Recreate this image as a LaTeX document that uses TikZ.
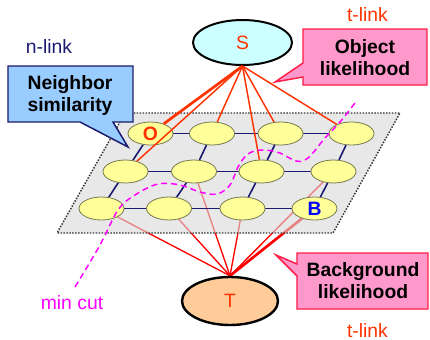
\documentclass[tikz,border=0pt]{standalone}
\usepackage{fontspec}
\setmainfont{Liberation Sans}
\usetikzlibrary{shapes.geometric}
\definecolor{sred}{RGB}{255,51,0}
\definecolor{tred}{RGB}{255,0,0}
\definecolor{navyline}{RGB}{26,26,110}
\definecolor{cellfill}{RGB}{255,255,153}
\definecolor{cellborder}{RGB}{120,120,80}
\definecolor{sfill}{RGB}{204,255,255}
\definecolor{tfill}{RGB}{255,204,153}
\definecolor{bluebox}{RGB}{153,204,255}
\definecolor{pinkbox}{RGB}{255,153,204}
\definecolor{pinkborder}{RGB}{255,30,70}
\definecolor{planegray}{RGB}{217,217,217}
\definecolor{cutmag}{RGB}{255,0,255}
\newcommand\myfs{\fontsize{14.5}{16.5}\selectfont}
\pgfdeclarelayer{tlinks}
\pgfdeclarelayer{planelayer}
\pgfsetlayers{tlinks,planelayer,main}
\begin{document}
\begin{tikzpicture}[x=0.75pt,y=-0.75pt,
  cell/.style={ellipse, draw=cellborder, fill=cellfill, line width=0.6pt,
    minimum width=33.75pt, minimum height=17.25pt, inner sep=0pt, font=\myfs\bfseries},
  gridline/.style={draw=navyline, line width=1.2pt},
  sline/.style={draw=sred, line width=1.1pt},
  tline/.style={draw=tred, line width=1pt},
  thickline/.style={line width=2pt},
  term/.style={ellipse, draw=black, line width=1.5pt, inner sep=0pt, font=\myfs},
  lbl/.style={font=\myfs, inner sep=0pt},
  callout/.style={font=\myfs\bfseries, align=center, inner sep=0pt},
  mincut/.style={draw=cutmag, line width=1.1pt, dash pattern=on 4.5pt off 3pt}
]
\useasboundingbox (0,0) rectangle (430,340);

% plane
\begin{pgfonlayer}{planelayer}
\fill[planegray, fill opacity=0.6] (125,113) -- (400,113) -- (333,233) -- (57,233) -- cycle;
\draw[black!80, line width=1.1pt, dash pattern=on 1.1pt off 1.1pt] (125,113) -- (400,113) -- (333,233) -- (57,233) -- cycle;
\end{pgfonlayer}

% cells
\node[cell] (c11) at (150.5,133.5) {\textcolor{sred}{O}};
\node[cell] (c12) at (212,133.5) {};
\node[cell] (c13) at (280.5,133.5) {};
\node[cell] (c14) at (351.5,133.5) {};
\node[cell] (c21) at (125.5,171.5) {};
\node[cell] (c22) at (194,171.5) {};
\node[cell] (c23) at (261.5,171.5) {};
\node[cell] (c24) at (333.5,171.5) {};
\node[cell] (c31) at (101.5,208.5) {};
\node[cell] (c32) at (169,208.5) {};
\node[cell] (c33) at (242.5,208.5) {};
\node[cell] (c34) at (314.5,208.5) {\textcolor{blue}{B}};

% n-links
\begin{pgfonlayer}{planelayer}
\foreach \r in {1,2,3}{
  \draw[gridline] (c\r1) -- (c\r2);
  \draw[gridline] (c\r2) -- (c\r3);
  \draw[gridline] (c\r3) -- (c\r4);
}
\foreach \c in {1,2,3,4}{
  \draw[gridline] (c1\c) -- (c2\c);
  \draw[gridline] (c2\c) -- (c3\c);
}
\end{pgfonlayer}

% terminals
\node[term, fill=sfill, minimum width=74.25pt, minimum height=33.75pt] (S) at (242.5,42.5) {\textcolor{sred}{S}};
\node[term, fill=tfill, minimum width=72pt, minimum height=36pt, line width=1.8pt] (T) at (230,301) {\textcolor{sred}{T}};

% T-links (beneath the plane)
\begin{pgfonlayer}{tlinks}
\foreach \n in {c31,c32,c22,c33,c24}{
  \draw[tline] (T.north) -- (\n);
}
\draw[tline, thickline] (T.north) -- (c34);
\end{pgfonlayer}

% S-links (above)
\draw[sline, thickline] (S.south) -- (c11);
\foreach \n in {c21,c12,c23,c13,c14}{
  \draw[sline] (S.south) -- (\n);
}

% min cut
\coordinate (cutend) at (75,287);
\draw[mincut] plot[smooth, tension=0.6] coordinates {(75,287) (100,245) (118,210) (135,195) (158,184) (180,185) (200,192) (217,194) (230,185) (238,167) (248,154) (262,150) (280,153) (296,161) (308,158) (325,138) (340,122) (355,103)};

% callouts
\fill[bluebox, draw=navyline, line width=1.1pt, line join=miter]
  (8,66) -- (133,66) -- (133,122) -- (113,122) -- (128,147) -- (80,122) -- (8,122) -- cycle;
\node[callout] (nb) at (70,95) {Neighbor\\similarity};

\fill[pinkbox, draw=pinkborder, line width=1.1pt, line join=miter]
  (303,29) -- (427,29) -- (427,85) -- (303,85) -- (303,77) -- (275,82) -- (303,63) -- cycle;
\node[callout] (ob) at (365,57.5) {Object\\likelihood};

\fill[pinkbox, draw=pinkborder, line width=1.1pt, line join=miter]
  (297,253) -- (428,253) -- (428,309) -- (297,309) -- (297,276) -- (276,255) -- (297,264) -- cycle;
\node[callout] (bg) at (363,281) {Background\\likelihood};

% labels
\node[lbl, text=navyline] (nl) at (49,46) {n-link};
\node[lbl, text=sred] (tl1) at (367.5,15) {t-link};
\node[lbl, text=sred] (tl2) at (367.5,331) {t-link};
\node[lbl, text=cutmag] (mc) at (72,303) {min cut};
\end{tikzpicture}
\end{document}
